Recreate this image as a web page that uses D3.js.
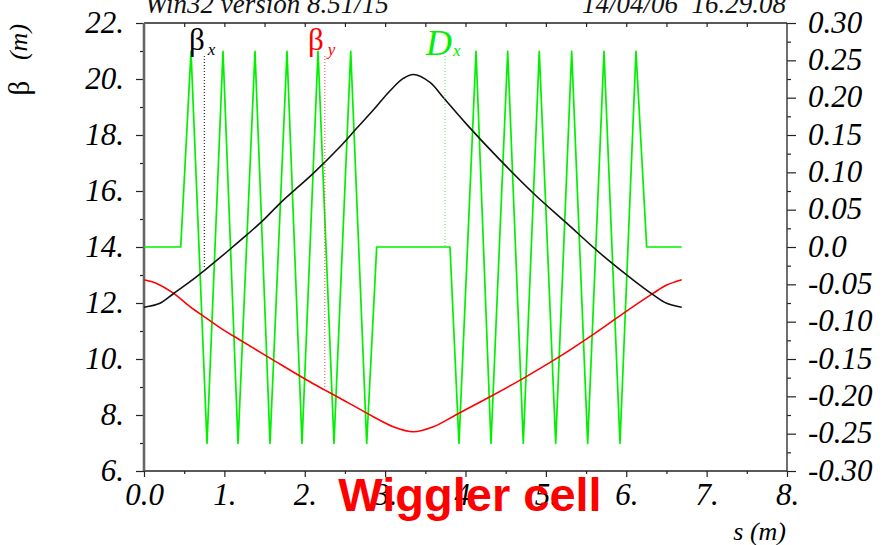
<!DOCTYPE html>
<html>
<head>
<meta charset="utf-8">
<script src="https://cdn.jsdelivr.net/npm/d3@7"></script>
<style>
  body { margin: 0; background: #fff; }
  svg { display: block; }
</style>
</head>
<body>
<svg id="chart" width="891" height="545"></svg>
<script>
// Lattice functions of one wiggler cell: beta functions on the left axis,
// horizontal dispersion on the right axis, all versus path length s.

// Horizontal beta function (m)
const sBetaX = [0, 0.199, 0.365, 0.572, 0.780, 1.070, 1.278, 1.484, 1.692, 1.900, 2.106, 2.439, 2.646, 2.853, 3.061, 3.226, 3.351,
                3.558, 3.724, 4.015, 4.429, 4.844, 5.259, 5.673, 6.088, 6.337, 6.503, 6.690];
const betaX  = [11.85, 11.99, 12.33, 12.76, 13.23, 13.92, 14.43, 14.96, 15.56, 16.10, 16.63, 17.58, 18.24, 18.89, 19.58, 20.02, 20.16,
                19.88, 19.34, 18.38, 17.11, 15.92, 14.85, 13.78, 12.82, 12.29, 11.99, 11.85];

// Vertical beta function (m)
const sBetaY = [0, 0.158, 0.365, 0.572, 0.780, 0.987, 1.194, 1.609, 2.024, 2.252, 2.439, 2.853, 3.102, 3.351,
                3.600, 3.890, 4.305, 4.719, 5.134, 5.549, 5.964, 6.337, 6.503, 6.690];
const betaY  = [12.83, 12.70, 12.35, 11.87, 11.45, 11.04, 10.68, 9.96, 9.25, 8.89, 8.60, 7.94, 7.58, 7.40,
                7.58, 8.02, 8.65, 9.31, 10.02, 10.80, 11.63, 12.35, 12.64, 12.83];

// Horizontal dispersion (m)
const sDx  = [0, 0.457, 0.585, 0.784, 0.983, 1.170, 1.381, 1.568, 1.779, 1.966, 2.165, 2.364, 2.572, 2.771, 2.895,
              3.807, 3.919, 4.131, 4.317, 4.525, 4.719, 4.918, 5.122, 5.321, 5.520, 5.723, 5.922, 6.121, 6.254, 6.690];
const dispX = [0, 0, 0.262, -0.263, 0.262, -0.263, 0.262, -0.263, 0.262, -0.263, 0.262, -0.263, 0.262, -0.263, 0,
              0, -0.263, 0.262, -0.263, 0.262, -0.263, 0.262, -0.263, 0.262, -0.263, 0.262, -0.263, 0.262, 0, 0];

// Axis ticks
const sTicks = [0, 1, 2, 3, 4, 5, 6, 7, 8];
const betaTicks = [6, 8, 10, 12, 14, 16, 18, 20, 22];
const dispTicks = [-0.30, -0.25, -0.20, -0.15, -0.10, -0.05, 0, 0.05, 0.10, 0.15, 0.20, 0.25, 0.30];

// Curve labels with the point each pointer line runs to
const labelBetaX = { s: 0.75, value: 13.22 };
const labelBetaY = { s: 2.25, value: 9.00 };
const labelDx    = { s: 3.745, value: 0 };

const svg = d3.select("#chart");
const serif = "'Liberation Serif','Times New Roman',serif";
const sans = "'Liberation Sans',Arial,sans-serif";

const x  = d3.scaleLinear().domain([0, 8]).range([144, 787]);
const yL = d3.scaleLinear().domain([6, 22]).range([471, 23]);
const yR = d3.scaleLinear().domain([-0.3, 0.3]).range([471, 23]);

svg.append("rect").attr("width", 891).attr("height", 545).attr("fill", "#fff");

function styleAxis(g, withText) {
  g.select(".domain").remove();
  g.selectAll(".tick line").attr("stroke", "#222").attr("stroke-width", 1.2);
  if (withText) {
    g.selectAll(".tick text")
      .attr("font-family", serif)
      .attr("font-style", "italic")
      .attr("font-size", 31)
      .attr("fill", "#000");
  } else {
    g.selectAll(".tick text").remove();
  }
}

const fmtS = d => d === 0 ? "0.0" : d + ".";
const fmtBeta = d => d + ".";
const fmtDisp = d => d === 0 ? "0.0" : d.toFixed(2);

// bottom axis
svg.append("g").attr("transform", "translate(0,471)")
  .call(d3.axisBottom(x).tickValues(sTicks).tickFormat(fmtS).tickSize(6).tickSizeOuter(0).tickPadding(6))
  .call(g => styleAxis(g, true));
svg.append("g").attr("transform", "translate(0,471)")
  .call(d3.axisBottom(x).tickValues(d3.range(0.5, 8, 1)).tickSize(3).tickSizeOuter(0))
  .call(g => styleAxis(g, false));

// top axis: ticks every half metre, pointing inwards
svg.append("g").attr("transform", "translate(0,23)")
  .call(d3.axisTop(x).tickValues(d3.range(0.5, 8, 0.5)).tickSize(-4).tickSizeOuter(0))
  .call(g => styleAxis(g, false));

// left axis (beta)
svg.append("g").attr("transform", "translate(144,0)")
  .call(d3.axisLeft(yL).tickValues(betaTicks).tickFormat(fmtBeta).tickSize(8).tickSizeOuter(0).tickPadding(12))
  .call(g => styleAxis(g, true))
  .call(g => g.selectAll(".tick text").attr("dy", "0.3em"));
svg.append("g").attr("transform", "translate(144,0)")
  .call(d3.axisLeft(yL).tickValues(d3.range(7, 22, 2)).tickSize(4).tickSizeOuter(0))
  .call(g => styleAxis(g, false));

// right axis (dispersion)
svg.append("g").attr("transform", "translate(787,0)")
  .call(d3.axisRight(yR).tickValues(dispTicks).tickFormat(fmtDisp).tickSize(9).tickSizeOuter(0).tickPadding(12))
  .call(g => styleAxis(g, true))
  .call(g => g.selectAll(".tick text").attr("dy", "0.3em"));
svg.append("g").attr("transform", "translate(787,0)")
  .call(d3.axisRight(yR).tickValues(d3.range(-0.275, 0.3, 0.05)).tickSize(4).tickSizeOuter(0))
  .call(g => styleAxis(g, false));

// frame
svg.append("line").attr("x1", 144).attr("x2", 787).attr("y1", 23).attr("y2", 23)
  .attr("stroke", "#222").attr("stroke-width", 1.4);
svg.append("line").attr("x1", 144).attr("x2", 787).attr("y1", 471).attr("y2", 471)
  .attr("stroke", "#222").attr("stroke-width", 1.6);
svg.append("line").attr("x1", 787).attr("x2", 787).attr("y1", 23).attr("y2", 471)
  .attr("stroke", "#333").attr("stroke-width", 1.4);
svg.append("line").attr("x1", 144).attr("x2", 144).attr("y1", 23).attr("y2", 471)
  .attr("stroke", "#666").attr("stroke-width", 2.6);

// curves
const dxLine = d3.line().x(i => x(sDx[i])).y(i => yR(dispX[i])).curve(d3.curveLinear);
const bxLine = d3.line().x(i => x(sBetaX[i])).y(i => yL(betaX[i])).curve(d3.curveCatmullRom.alpha(0.5));
const byLine = d3.line().x(i => x(sBetaY[i])).y(i => yL(betaY[i])).curve(d3.curveCatmullRom.alpha(0.5));

svg.append("path").attr("d", dxLine(d3.range(sDx.length)))
  .attr("fill", "none").attr("stroke", "#00f000").attr("stroke-width", 1.7).attr("stroke-linejoin", "round");
svg.append("path").attr("d", byLine(d3.range(sBetaY.length)))
  .attr("fill", "none").attr("stroke", "#ff0000").attr("stroke-width", 1.6);
svg.append("path").attr("d", bxLine(d3.range(sBetaX.length)))
  .attr("fill", "none").attr("stroke", "#111").attr("stroke-width", 1.6);

// curve labels with dotted pointer lines
function pointer(lab, yScale, color) {
  svg.append("line")
    .attr("x1", x(lab.s)).attr("x2", x(lab.s))
    .attr("y1", 56).attr("y2", yScale(lab.value))
    .attr("stroke", color).attr("stroke-width", 1).attr("stroke-dasharray", "1,2");
}
pointer(labelBetaX, yL, "#000");
pointer(labelBetaY, yL, "#ff4040");
pointer(labelDx, yR, "#50f050");

const tBx = svg.append("text").attr("x", 189).attr("y", 50).attr("font-family", serif).attr("fill", "#000");
tBx.append("tspan").attr("font-size", 31).text("β");
tBx.append("tspan").attr("font-size", 17).attr("font-style", "italic").attr("dx", 3).attr("dy", 5).text("x");

const tBy = svg.append("text").attr("x", 308).attr("y", 50).attr("font-family", serif).attr("fill", "#ff0000");
tBy.append("tspan").attr("font-size", 31).text("β");
tBy.append("tspan").attr("font-size", 17).attr("font-style", "italic").attr("dx", 4).attr("dy", 5).text("y");

const tDx = svg.append("text").attr("x", 426).attr("y", 55).attr("font-family", serif).attr("fill", "#00f000");
tDx.append("tspan").attr("font-size", 36).attr("font-style", "italic").text("D");
tDx.append("tspan").attr("font-size", 17).attr("font-style", "italic").attr("dx", 1).attr("dy", 1).text("x");

// header
svg.append("text").attr("x", 145).attr("y", 12.5)
  .attr("font-family", serif).attr("font-style", "italic").attr("font-size", 27).attr("fill", "#111")
  .text("Win32 version 8.51/15");
svg.append("text").attr("x", 786).attr("y", 12.5).attr("text-anchor", "end")
  .attr("font-family", serif).attr("font-style", "italic").attr("font-size", 27).attr("fill", "#111")
  .style("white-space", "pre")
  .text("14/04/06  16.29.08");

// axis titles
svg.append("text").attr("transform", "translate(29,88) rotate(-90)").attr("text-anchor", "middle")
  .attr("font-family", serif).attr("font-size", 29).attr("fill", "#000").text("β");
svg.append("text").attr("transform", "translate(27,42) rotate(-90)").attr("text-anchor", "middle")
  .attr("font-family", serif).attr("font-style", "italic").attr("font-size", 26).attr("fill", "#000").text("(m)");
svg.append("text").attr("x", 786).attr("y", 540).attr("text-anchor", "end")
  .attr("font-family", serif).attr("font-style", "italic").attr("font-size", 26).attr("fill", "#000")
  .text("s (m)");

// caption
svg.append("text").attr("x", 470).attr("y", 511).attr("text-anchor", "middle")
  .attr("font-family", sans).attr("font-weight", "bold").attr("font-size", 47).attr("fill", "#ff0000")
  .text("Wiggler cell");
</script>
</body>
</html>
